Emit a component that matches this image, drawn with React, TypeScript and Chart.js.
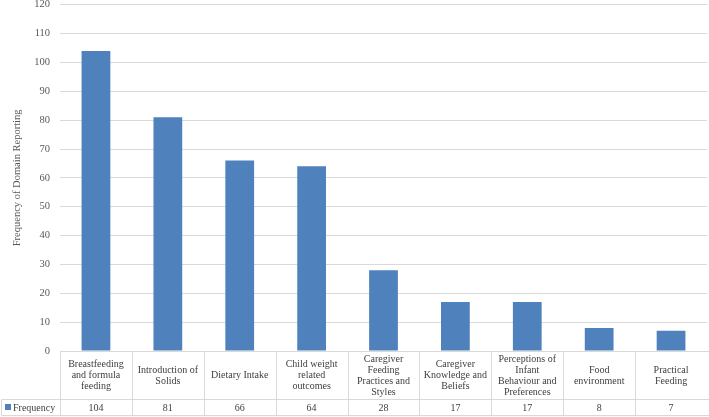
import React, { useEffect, useRef } from "react";
import { Chart, registerables } from "chart.js";

Chart.register(...registerables);

const categories: string[][] = [
  ["Breastfeeding", "and formula", "feeding"],
  ["Introduction of", "Solids"],
  ["Dietary Intake"],
  ["Child weight", "related", "outcomes"],
  ["Caregiver", "Feeding", "Practices and", "Styles"],
  ["Caregiver", "Knowledge and", "Beliefs"],
  ["Perceptions of", "Infant", "Behaviour and", "Preferences"],
  ["Food", "environment"],
  ["Practical", "Feeding"],
];
const seriesName = "Frequency";
const frequency = [104, 81, 66, 64, 28, 17, 17, 8, 7];
const yTitle = "Frequency of Domain Reporting";
const yMin = 0;
const yMax = 120;
const yStep = 10;

const FONT = "'Liberation Serif', serif";
const BAR = "#4F81BD";
const GRID = "#d9d9d9";
const TEXT = "#404040";

const tablePlugin = {
  id: "dataTable",
  afterDraw(chart: any) {
    const ctx = chart.ctx as CanvasRenderingContext2D;
    const xs = chart.scales.x;
    const area = chart.chartArea;
    const n = categories.length;
    const colW = (area.right - area.left) / n;
    const top = Math.round(area.bottom) + 0.5;
    const mid = 399.5;
    const bot = 415.5;
    const farLeft = 1.5;
    const farRight = 709;
    ctx.save();
    ctx.strokeStyle = GRID;
    ctx.lineWidth = 1;
    ctx.beginPath();
    ctx.moveTo(area.left, top);
    ctx.lineTo(farRight, top);
    ctx.moveTo(farLeft, mid);
    ctx.lineTo(farRight, mid);
    ctx.moveTo(farLeft, bot);
    ctx.lineTo(farRight, bot);
    ctx.moveTo(farLeft, mid);
    ctx.lineTo(farLeft, bot);
    for (let i = 0; i < n; i++) {
      const x = Math.round(area.left + i * colW) + 0.5;
      ctx.moveTo(x, top);
      ctx.lineTo(x, bot);
    }
    ctx.stroke();

    ctx.fillStyle = TEXT;
    ctx.font = `10px ${FONT}`;
    ctx.textAlign = "center";
    ctx.textBaseline = "middle";
    const lh = 11;
    const cy = (top + mid) / 2;
    categories.forEach((lines, i) => {
      const cx = xs.getPixelForValue(i);
      const start = cy - ((lines.length - 1) * lh) / 2;
      lines.forEach((ln, j) => ctx.fillText(ln, cx, start + j * lh));
      ctx.fillText(String(frequency[i]), cx, (mid + bot) / 2 + 0.5);
    });
    // legend key
    ctx.fillStyle = BAR;
    ctx.fillRect(5, 404, 6, 6);
    ctx.fillStyle = TEXT;
    ctx.textAlign = "left";
    ctx.fillText(seriesName, 13, (mid + bot) / 2 + 0.5);
    ctx.restore();
  },
};

export default function App() {
  const ref = useRef<HTMLCanvasElement>(null);
  useEffect(() => {
    if (!ref.current) return;
    const chart = new Chart(ref.current, {
      type: "bar",
      data: {
        labels: categories.map((c) => c.join(" ")),
        datasets: [
          {
            label: seriesName,
            data: frequency,
            backgroundColor: BAR,
            borderWidth: 0,
            categoryPercentage: 1,
            barPercentage: 0.4,
          },
        ],
      },
      options: {
        animation: false,
        responsive: false,
        devicePixelRatio: 1,
        layout: { padding: { top: 0, right: 2, bottom: 66, left: 0 } },
        plugins: { legend: { display: false }, tooltip: { enabled: false } },
        scales: {
          x: { display: false, offset: true, grid: { display: false } },
          y: {
            min: yMin,
            max: yMax,
            ticks: {
              stepSize: yStep,
              padding: 0,
              color: "#595959",
              font: { family: FONT, size: 10.5, lineHeight: 0.9 },
            },
            grid: {
              color: GRID,
              drawTicks: true,
              tickLength: 10,
              tickColor: "rgba(0,0,0,0)",
            },
            border: { display: false },
            title: {
              display: true,
              text: yTitle,
              color: "#595959",
              font: { family: FONT, size: 10.5 },
              padding: { top: 11, bottom: 0 },
            },
            afterFit(scale: any) {
              scale.width = 60;
            },
          },
        },
      },
      plugins: [tablePlugin],
    });
    return () => chart.destroy();
  }, []);
  return (
    <div style={{ position: "fixed", left: 0, top: 0, width: 709, height: 417, background: "#fff" }}>
      <canvas ref={ref} width={709} height={417} />
    </div>
  );
}
